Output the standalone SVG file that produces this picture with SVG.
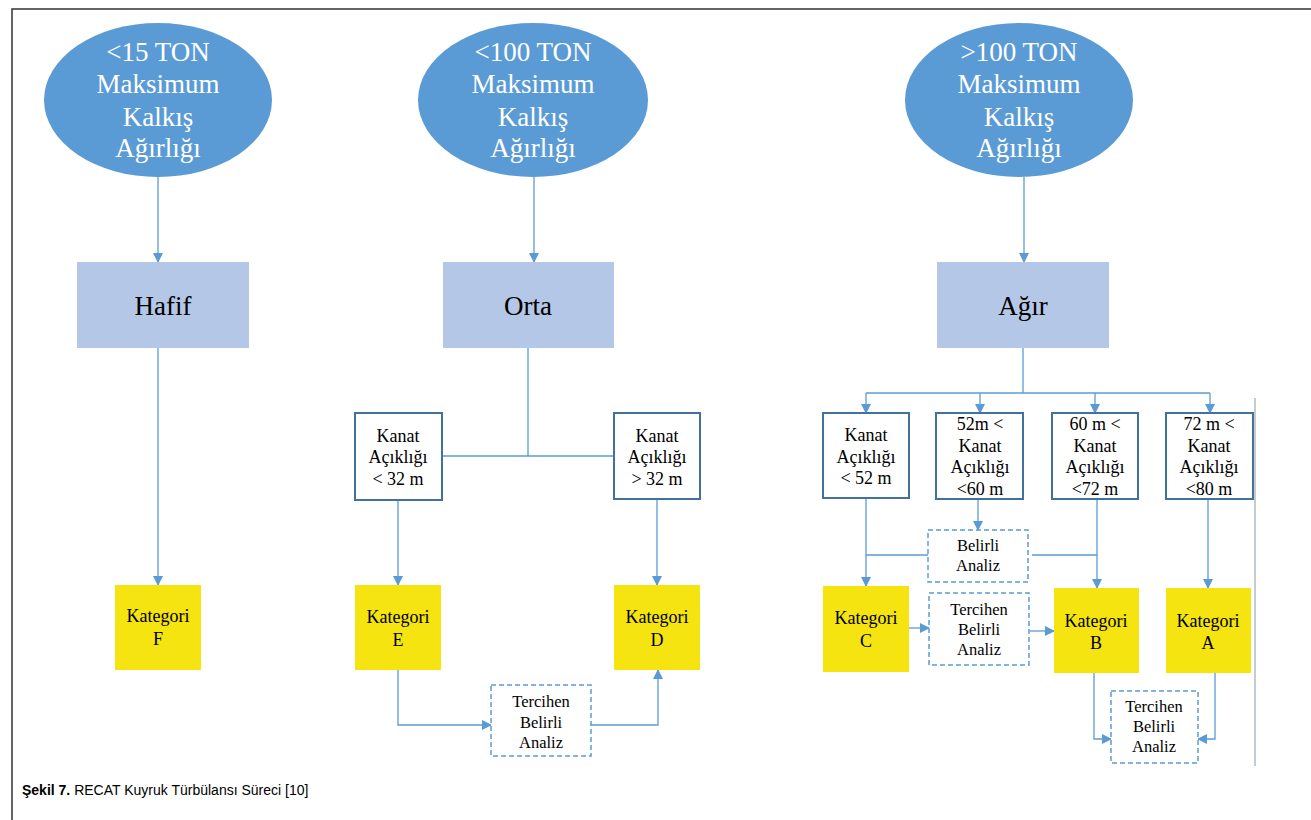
<svg xmlns="http://www.w3.org/2000/svg" width="1311" height="820" viewBox="0 0 1311 820">
<defs>
<style>
.ell{fill:#5B9BD5}
.et{font-family:"Liberation Serif",serif;font-size:27px;fill:#fff;text-anchor:middle}
.cat{fill:#B4C7E7}
.ct{font-family:"Liberation Serif",serif;font-size:27px;fill:#000;text-anchor:middle}
.wb{fill:#fff;stroke:#41719C;stroke-width:2}
.wt{font-family:"Liberation Serif",serif;font-size:18px;fill:#000;text-anchor:middle}
.yb{fill:#F5E40F}
.yt{font-family:"Liberation Serif",serif;font-size:18px;fill:#000;text-anchor:middle}
.db{fill:#fff;stroke:#5B9BD5;stroke-width:1.5;stroke-dasharray:5 3}
.dt{font-family:"Liberation Serif",serif;font-size:16.5px;fill:#000;text-anchor:middle}
.ln{fill:none;stroke:#5B9BD5;stroke-width:1.3}
.ar{fill:none;stroke:#5B9BD5;stroke-width:1.3;marker-end:url(#ah)}
.cap{font-family:"Liberation Sans",Arial,sans-serif;font-size:14px;fill:#000}
</style>
<marker id="ah" markerWidth="10" markerHeight="10" refX="9" refY="5" orient="auto" markerUnits="userSpaceOnUse">
<path d="M0,0 L10,5 L0,10 Z" fill="#5B9BD5"/>
</marker>
</defs>
<rect x="0" y="0" width="1311" height="820" fill="#fff"/>
<path d="M12,820 L12,9 L1311,9" fill="none" stroke="#333" stroke-width="1.5"/>
<line x1="1255" y1="398" x2="1255" y2="766" stroke="#8a9aa8" stroke-width="1"/>

<g id="connectors">
<line class="ar" x1="158" y1="177" x2="158" y2="262"/>
<line class="ar" x1="534" y1="177" x2="534" y2="262"/>
<line class="ar" x1="1024" y1="177" x2="1024" y2="262"/>
<line class="ar" x1="158" y1="348" x2="158" y2="585"/>
<!-- Orta -->
<line class="ln" x1="528" y1="348" x2="528" y2="456"/>
<line class="ln" x1="442" y1="456" x2="614" y2="456"/>
<line class="ar" x1="398" y1="500" x2="398" y2="585"/>
<line class="ar" x1="657" y1="499" x2="657" y2="585"/>
<polyline class="ar" points="398,670 398,725 491,725"/>
<polyline class="ar" points="591,725 658,725 658,670"/>
<!-- Agir -->
<line class="ln" x1="1023" y1="348" x2="1023" y2="393"/>
<line class="ln" x1="866" y1="393" x2="1210" y2="393"/>
<line class="ar" x1="866" y1="393" x2="866" y2="413"/>
<line class="ar" x1="980" y1="393" x2="980" y2="413"/>
<line class="ar" x1="1095" y1="393" x2="1095" y2="413"/>
<line class="ar" x1="1210" y1="393" x2="1210" y2="413"/>
<line class="ar" x1="866" y1="498" x2="866" y2="586"/>
<line class="ln" x1="866" y1="555" x2="928" y2="555"/>
<line class="ar" x1="978" y1="499" x2="978" y2="530"/>
<line class="ln" x1="1032" y1="555" x2="1097" y2="555"/>
<line class="ar" x1="1097" y1="499" x2="1097" y2="588"/>
<line class="ar" x1="1208" y1="499" x2="1208" y2="588"/>
<line class="ar" x1="909" y1="628" x2="929" y2="628"/>
<line class="ar" x1="1030" y1="631" x2="1054" y2="631"/>
<polyline class="ar" points="1094,673 1094,739 1111,739"/>
<polyline class="ar" points="1215,673 1215,739 1198,739"/>
</g>

<g id="e1"><ellipse class="ell" cx="158" cy="100" rx="114" ry="77"/>
<text class="et" x="158" y="61">&lt;15 TON</text>
<text class="et" x="158" y="93">Maksimum</text>
<text class="et" x="158" y="126">Kalkış</text>
<text class="et" x="158" y="157">Ağırlığı</text></g>
<g id="e2"><ellipse class="ell" cx="533" cy="100" rx="115" ry="77"/>
<text class="et" x="533" y="61">&lt;100 TON</text>
<text class="et" x="533" y="93">Maksimum</text>
<text class="et" x="533" y="126">Kalkış</text>
<text class="et" x="533" y="157">Ağırlığı</text></g>
<g id="e3"><ellipse class="ell" cx="1019" cy="100" rx="114" ry="77"/>
<text class="et" x="1019" y="61">&gt;100 TON</text>
<text class="et" x="1019" y="93">Maksimum</text>
<text class="et" x="1019" y="126">Kalkış</text>
<text class="et" x="1019" y="157">Ağırlığı</text></g>

<g id="hafif"><rect class="cat" x="77" y="262" width="172" height="86"/><text class="ct" x="163" y="315">Hafif</text></g>
<g id="orta"><rect class="cat" x="443" y="262" width="171" height="86"/><text class="ct" x="528" y="315">Orta</text></g>
<g id="agir"><rect class="cat" x="937" y="262" width="172" height="86"/><text class="ct" x="1023" y="315">Ağır</text></g>

<g id="kF"><rect class="yb" x="115" y="585" width="86" height="85"/><text class="yt" x="158" y="622">Kategori</text><text class="yt" x="158" y="645">F</text></g>

<g id="k32a"><rect class="wb" x="355" y="413" width="87" height="87"/><text class="wt" x="398" y="442">Kanat</text><text class="wt" x="398" y="463">Açıklığı</text><text class="wt" x="398" y="485">&lt; 32 m</text></g>
<g id="k32b"><rect class="wb" x="614" y="413" width="86" height="86"/><text class="wt" x="657" y="442">Kanat</text><text class="wt" x="657" y="463">Açıklığı</text><text class="wt" x="657" y="485">&gt; 32 m</text></g>
<g id="kE"><rect class="yb" x="355" y="585" width="86" height="85"/><text class="yt" x="398" y="623">Kategori</text><text class="yt" x="398" y="646">E</text></g>
<g id="kD"><rect class="yb" x="614" y="585" width="86" height="85"/><text class="yt" x="657" y="623">Kategori</text><text class="yt" x="657" y="646">D</text></g>
<g id="tba1"><rect class="db" x="491" y="685" width="100" height="71"/><text class="dt" x="541" y="707">Tercihen</text><text class="dt" x="541" y="728">Belirli</text><text class="dt" x="541" y="748">Analiz</text></g>

<g id="k52"><rect class="wb" x="823" y="413" width="86" height="85"/><text class="wt" x="866" y="441">Kanat</text><text class="wt" x="866" y="463">Açıklığı</text><text class="wt" x="866" y="484">&lt; 52 m</text></g>
<g id="k60"><rect class="wb" x="936" y="413" width="87" height="86"/><text class="wt" x="980" y="430">52m &lt;</text><text class="wt" x="980" y="452">Kanat</text><text class="wt" x="980" y="473">Açıklığı</text><text class="wt" x="980" y="495">&lt;60 m</text></g>
<g id="k72"><rect class="wb" x="1052" y="413" width="86" height="86"/><text class="wt" x="1095" y="430">60 m &lt;</text><text class="wt" x="1095" y="452">Kanat</text><text class="wt" x="1095" y="473">Açıklığı</text><text class="wt" x="1095" y="495">&lt;72 m</text></g>
<g id="k80"><rect class="wb" x="1166" y="413" width="87" height="86"/><text class="wt" x="1209" y="430">72 m &lt;</text><text class="wt" x="1209" y="452">Kanat</text><text class="wt" x="1209" y="473">Açıklığı</text><text class="wt" x="1209" y="495">&lt;80 m</text></g>
<g id="ba"><rect class="db" x="928" y="530" width="100" height="52"/><text class="dt" x="978" y="551">Belirli</text><text class="dt" x="978" y="571">Analiz</text></g>
<g id="kC"><rect class="yb" x="823" y="586" width="86" height="86"/><text class="yt" x="866" y="624">Kategori</text><text class="yt" x="866" y="647">C</text></g>
<g id="tba2"><rect class="db" x="929" y="593" width="100" height="72"/><text class="dt" x="979" y="615">Tercihen</text><text class="dt" x="979" y="635">Belirli</text><text class="dt" x="979" y="655">Analiz</text></g>
<g id="kB"><rect class="yb" x="1054" y="588" width="85" height="85"/><text class="yt" x="1096" y="627">Kategori</text><text class="yt" x="1096" y="649">B</text></g>
<g id="kA"><rect class="yb" x="1166" y="588" width="85" height="85"/><text class="yt" x="1208" y="627">Kategori</text><text class="yt" x="1208" y="649">A</text></g>
<g id="tba3"><rect class="db" x="1111" y="691" width="87" height="72"/><text class="dt" x="1154" y="712">Tercihen</text><text class="dt" x="1154" y="732">Belirli</text><text class="dt" x="1154" y="752">Analiz</text></g>

<text class="cap" x="22" y="795"><tspan font-weight="bold">Şekil 7.</tspan> RECAT Kuyruk Türbülansı Süreci [10]</text>
</svg>
